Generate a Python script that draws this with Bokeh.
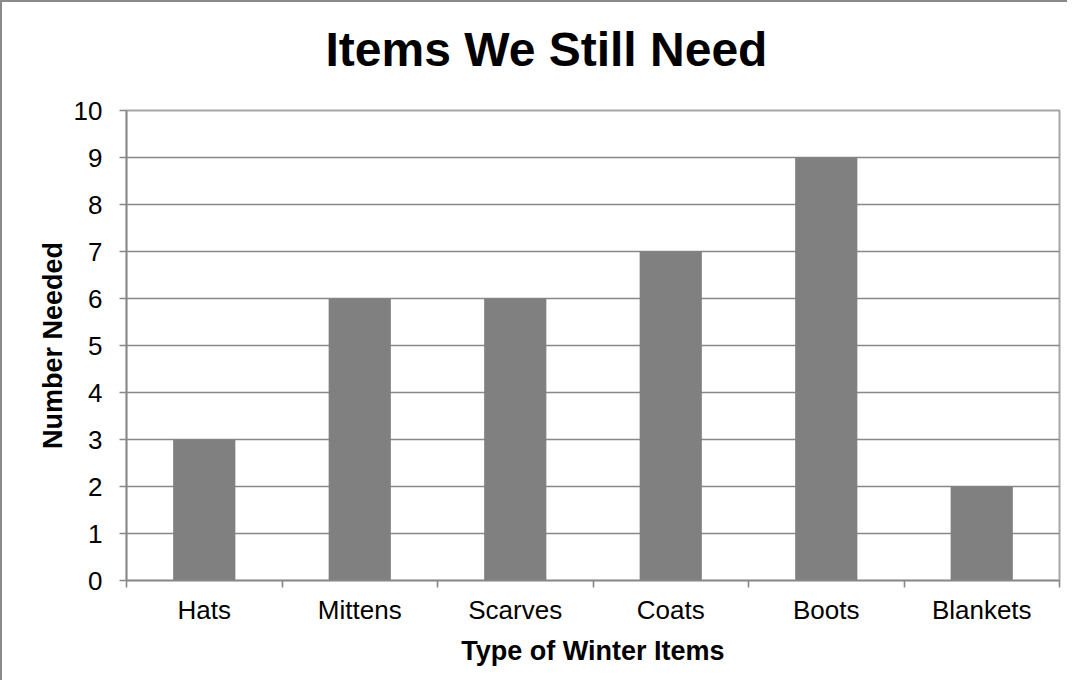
from bokeh.plotting import figure
from bokeh.models import Range1d, FixedTicker, Title
from bokeh.embed import file_html
from bokeh.resources import INLINE

items = ["Hats", "Mittens", "Scarves", "Coats", "Boots", "Blankets"]
needed = [3, 6, 6, 7, 9, 2]
y_ticks = [0, 1, 2, 3, 4, 5, 6, 7, 8, 9, 10]
title_text = "Items We Still Need"

positions = [i + 0.5 for i in range(len(items))]
boundaries = list(range(len(items) + 1))

FONT = "Liberation Sans"
GRAY = "#888888"

p = figure(width=1067, height=680, output_backend="svg", toolbar_location=None,
           x_range=Range1d(0, len(items)), y_range=Range1d(0, 10),
           min_border_left=124, min_border_right=10, min_border_top=108, min_border_bottom=102,
           title=title_text)
p.styles = {"border-left": "2px solid #8a8a8a", "border-top": "2px solid #8a8a8a"}

p.title.text_font = FONT
p.title.text_font_size = "48px"
p.title.text_font_style = "bold"
p.title.align = "left"
p.title.offset = 199
p.title.standoff = 0
p.title.text_color = "black"

# empty spacer between the title and the plot area
p.add_layout(Title(text=" ", text_font_size="1px", standoff=32), "above")

p.vbar(x=positions, top=needed, width=0.4, color="#808080", line_color=None)

p.outline_line_color = "#a6a6a6"
p.outline_line_width = 2

p.xgrid.visible = False
p.ygrid.ticker = FixedTicker(ticks=y_ticks)
p.ygrid.grid_line_color = GRAY
p.ygrid.grid_line_width = 1.6

xa = p.xaxis[0]
xa.ticker = FixedTicker(ticks=positions, minor_ticks=boundaries)
xa.major_label_overrides = {pos: name for pos, name in zip(positions, items)}
xa.major_tick_out = 0
xa.major_tick_in = 0
xa.minor_tick_out = 7
xa.minor_tick_in = 0
xa.minor_tick_line_color = GRAY
xa.minor_tick_line_width = 1.6
xa.axis_line_color = GRAY
xa.axis_line_width = 1.6
xa.major_label_text_font = FONT
xa.major_label_text_font_size = "26px"
xa.major_label_text_color = "black"
xa.major_label_standoff = 7
xa.axis_label = "Type of Winter Items"
xa.axis_label_text_font = FONT
xa.axis_label_text_font_size = "27px"
xa.axis_label_text_font_style = "bold"
xa.axis_label_text_color = "black"
xa.axis_label_standoff = 8

ya = p.yaxis[0]
ya.ticker = FixedTicker(ticks=y_ticks)
ya.major_tick_out = 7
ya.major_tick_in = 0
ya.minor_tick_out = 0
ya.minor_tick_in = 0
ya.major_tick_line_color = GRAY
ya.major_tick_line_width = 1.6
ya.axis_line_color = GRAY
ya.axis_line_width = 1.6
ya.major_label_text_font = FONT
ya.major_label_text_font_size = "26px"
ya.major_label_text_color = "black"
ya.major_label_standoff = 17
ya.axis_label = "Number Needed"
ya.axis_label_text_font = FONT
ya.axis_label_text_font_size = "27px"
ya.axis_label_text_font_style = "bold"
ya.axis_label_text_color = "black"
ya.axis_label_standoff = 3

open("out.html", "w").write(file_html(p, INLINE))
